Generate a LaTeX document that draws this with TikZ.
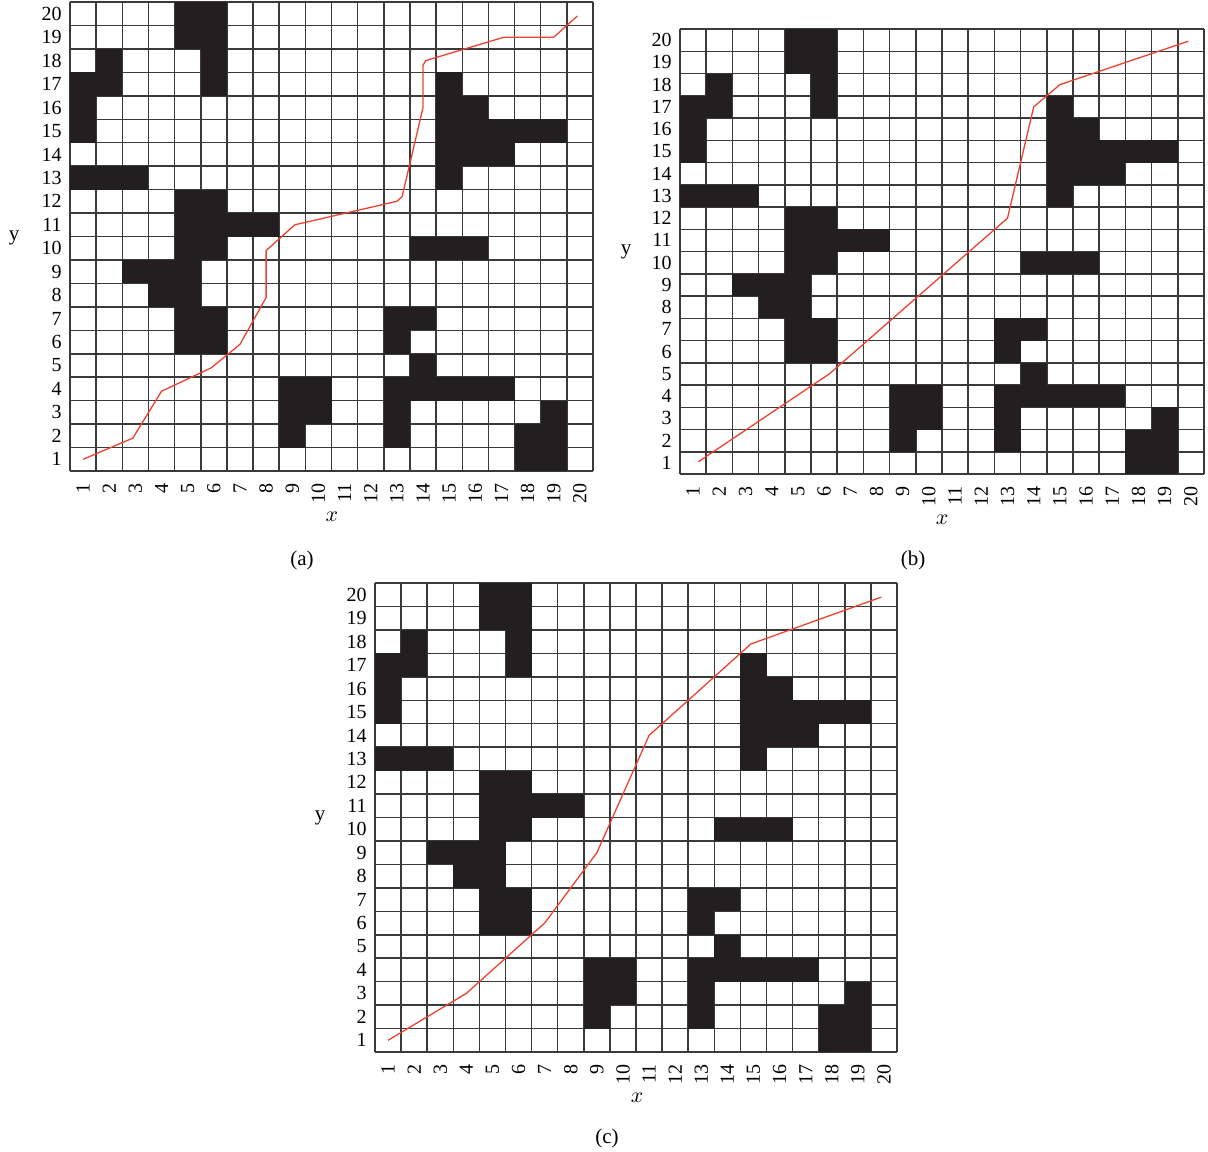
\documentclass[tikz,border=0pt]{standalone}
\usepackage{fontspec}
\setmainfont{Liberation Serif}
\usepackage{tikz}
\usetikzlibrary{positioning}
\definecolor{GridGray}{HTML}{3A3A3A}
\definecolor{CellBlack}{HTML}{231F20}
\definecolor{PathRed}{HTML}{EE4130}
% occupied cells (column/row), same map in every panel
\newcommand{\obstaclecells}{5/20,6/20,5/19,6/19,2/18,6/18,1/17,2/17,6/17,15/17,1/16,15/16,16/16,1/15,15/15,16/15,17/15,18/15,19/15,15/14,16/14,17/14,1/13,2/13,3/13,15/13,5/12,6/12,5/11,6/11,7/11,8/11,5/10,6/10,14/10,15/10,16/10,3/9,4/9,5/9,4/8,5/8,5/7,6/7,13/7,14/7,5/6,6/6,13/6,14/5,9/4,10/4,13/4,14/4,15/4,16/4,17/4,9/3,10/3,13/3,19/3,9/2,13/2,18/2,19/2,18/1,19/1}
\tikzset{
    % Grid lines
    gridline/.style={
        draw=GridGray,
        line width=0.75pt,
        step=1
    },
    % Obstacle cell
    obstacle/.style={
        fill=CellBlack
    },
    % Planned route
    pathline/.style={
        draw=PathRed,
        line width=0.65pt,
        line join=round
    },
    % Tick numbers
    ticknum/.style={
        inner sep=0pt,
        font=\fontsize{10}{12}\selectfont
    },
    ynum/.style={
        ticknum,
        anchor=east,
        xshift=-4pt
    },
    xnum/.style={
        ticknum,
        rotate=90,
        anchor=east
    },
    % Axis names and captions
    axisname/.style={
        inner sep=0pt,
        font=\fontsize{10.5}{12}\selectfont
    }
}

\begin{document}
\begin{tikzpicture}[x=0.5pt, y=-0.5pt]
    \useasboundingbox (0,0) rectangle (1208,1151);

    % panel (a)
    \begin{scope}[shift={(70,471)}, x=13.075pt, y=11.725pt]
        \draw[gridline] (0,0) grid (20,20);
        \begin{scope}[shift={(-0.5,-0.5)}]
            \foreach \i/\j in \obstaclecells
                \fill[obstacle] (\i-0.5,\j-0.5) rectangle ++(1,1);
            \foreach \k in {1,...,20} {
                \node[ynum] (ay\k) at (0.5,\k) {\k};
                \node[xnum] (ax\k) at ([yshift=-6pt]\k,0.5) {\k};
            }
            \draw[pathline] (1,1) -- (2.9,1.9) -- (4,3.9) -- (5.9,4.9) -- (7,5.9) -- (8,7.9) -- (8,9.9) -- (9.1,11) -- (13,12) -- (13.2,12.2) -- (14,16) -- (14,17.8) -- (14.1,18) -- (17.1,19) -- (19,19) -- (19.9,19.9);
        \end{scope}
    \end{scope}
    \node[axisname] (ya) at (14,238) {y};
    \node[axisname] (xa) at (332,517) {$x$};
    \node[axisname] (capa) at (302,560) {(a)};

    % panel (b)
    \begin{scope}[shift={(680,474)}, x=13.1pt, y=11.125pt]
        \draw[gridline] (0,0) grid (20,20);
        \begin{scope}[shift={(-0.5,-0.5)}]
            \foreach \i/\j in \obstaclecells
                \fill[obstacle] (\i-0.5,\j-0.5) rectangle ++(1,1);
            \foreach \k in {1,...,20} {
                \node[ynum] (by\k) at (0.5,\k) {\k};
                \node[xnum] (bx\k) at ([yshift=-6pt]\k,0.5) {\k};
            }
            \draw[pathline] (1.2,1.05) -- (6.2,5) -- (13,12) -- (14,17) -- (15,18) -- (19.9,19.95);
        \end{scope}
    \end{scope}
    \node[axisname] (yb) at (626,252) {y};
    \node[axisname] (xb) at (942,520) {$x$};
    \node[axisname] (capb) at (913,560) {(b)};

    % panel (c)
    \begin{scope}[shift={(375,1052)}, x=13.05pt, y=11.725pt]
        \draw[gridline] (0,0) grid (20,20);
        \begin{scope}[shift={(-0.5,-0.5)}]
            \foreach \i/\j in \obstaclecells
                \fill[obstacle] (\i-0.5,\j-0.5) rectangle ++(1,1);
            \foreach \k in {1,...,20} {
                \node[ynum] (cy\k) at (0.5,\k) {\k};
                \node[xnum] (cx\k) at ([yshift=-6pt]\k,0.5) {\k};
            }
            \draw[pathline] (1,1) -- (4,3) -- (7,6) -- (9,9) -- (11,14) -- (14.9,17.9) -- (19.9,19.9);
        \end{scope}
    \end{scope}
    \node[axisname] (yc) at (320,818) {y};
    \node[axisname] (xc) at (637,1098) {$x$};
    \node[axisname] (capc) at (607,1138) {(c)};
\end{tikzpicture}
\end{document}
